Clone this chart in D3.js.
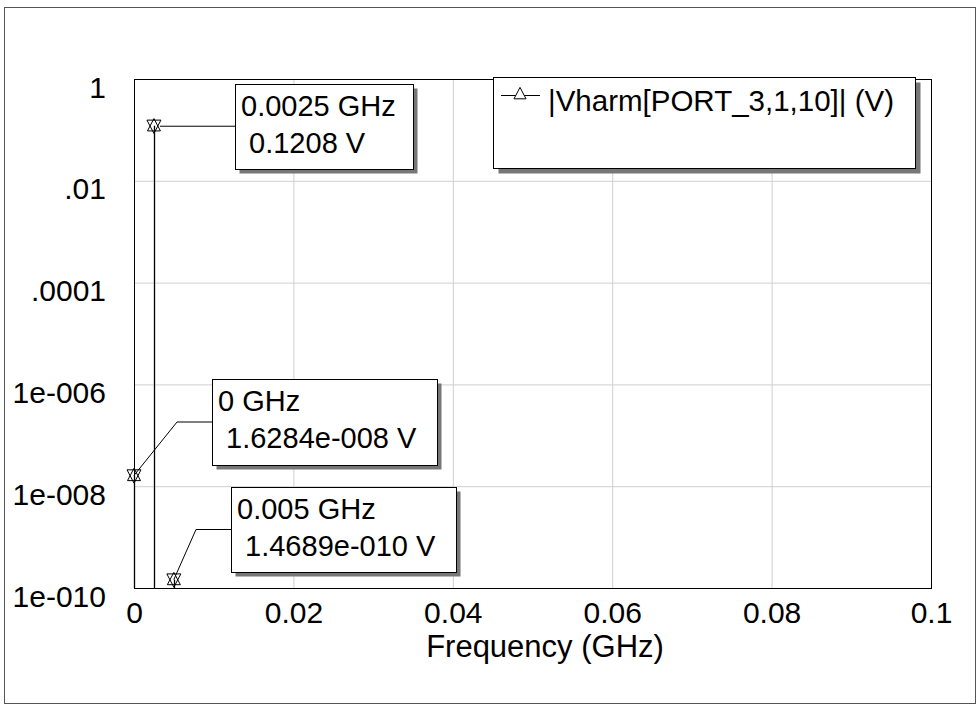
<!DOCTYPE html>
<html>
<head>
<meta charset="utf-8">
<script src="https://cdn.jsdelivr.net/npm/d3@7"></script>
<style>
  html, body { margin: 0; padding: 0; background: #fff; }
  svg { display: block; }
  text { font-family: Arial, "Liberation Sans", sans-serif; fill: #000; white-space: pre; }
</style>
</head>
<body>
<svg id="chart" width="978" height="705"></svg>
<script>
// ---- data ----
const freqs = [0, 0.0025, 0.005];                 // GHz
const values = [1.6284e-8, 0.1208, 1.4689e-10];   // V
const xTicks = [0, 0.02, 0.04, 0.06, 0.08, 0.1];
const xTickLabels = ["0", "0.02", "0.04", "0.06", "0.08", "0.1"];
const yTicks = [1, 1e-2, 1e-4, 1e-6, 1e-8, 1e-10];
const yTickLabels = ["1", ".01", ".0001", "1e-006", "1e-008", "1e-010"];
const seriesName = "|Vharm[PORT_3,1,10]| (V)";
const xTitle = "Frequency (GHz)";
const markerFreqLabels = ["0 GHz", "0.0025 GHz", "0.005 GHz"];
const markerValueLabels = [" 1.6284e-008 V", " 0.1208 V", " 1.4689e-010 V"];

// ---- layout ----
const svg = d3.select("#chart");
const plot = { left: 134, top: 79, right: 931, bottom: 588 };
const x = d3.scaleLinear().domain([0, 0.1]).range([plot.left, plot.right]);
const y = d3.scaleLog().domain([1e-10, 1]).range([plot.bottom, plot.top]);

// outer frame
svg.append("rect").attr("x", 4.5).attr("y", 7.5).attr("width", 971).attr("height", 696)
  .attr("fill", "none").attr("stroke", "#555").attr("stroke-width", 1);

// grid
const gridX = d3.axisBottom(x).tickValues(xTicks).tickSize(-(plot.bottom - plot.top)).tickFormat("");
svg.append("g").attr("transform", `translate(0,${plot.bottom})`).call(gridX)
  .call(g => g.select(".domain").remove())
  .call(g => g.selectAll("line").attr("stroke", "#cfcfcf").attr("stroke-width", 1));
const gridY = d3.axisLeft(y).tickValues(yTicks).tickSize(-(plot.right - plot.left)).tickFormat("");
svg.append("g").attr("transform", `translate(${plot.left},0)`).call(gridY)
  .call(g => g.select(".domain").remove())
  .call(g => g.selectAll("line").attr("stroke", "#cfcfcf").attr("stroke-width", 1));

// tick labels
const xAxis = d3.axisBottom(x).tickValues(xTicks).tickSize(0)
  .tickFormat((d, i) => xTickLabels[i]);
svg.append("g").attr("transform", `translate(0,${plot.bottom})`).call(xAxis)
  .call(g => g.select(".domain").remove())
  .call(g => g.selectAll("text").attr("font-size", 30).attr("font-family", null)
    .attr("dy", null).attr("y", 35).attr("fill", "#000"));

const yAxis = d3.axisLeft(y).tickValues(yTicks).tickSize(0)
  .tickFormat((d, i) => yTickLabels[i]);
svg.append("g").attr("transform", `translate(${plot.left},0)`).call(yAxis)
  .call(g => g.select(".domain").remove())
  .call(g => g.selectAll("text").attr("font-size", 30).attr("font-family", null)
    .attr("dy", null).attr("x", -28).attr("y", 18).attr("fill", "#000"));

// axis title
svg.append("text").attr("x", 545).attr("y", 657).attr("text-anchor", "middle")
  .attr("font-size", 31).text(xTitle);

// plot border
svg.append("rect").attr("x", plot.left + 0.5).attr("y", plot.top + 0.5)
  .attr("width", plot.right - plot.left).attr("height", plot.bottom - plot.top)
  .attr("fill", "none").attr("stroke", "#000").attr("stroke-width", 1);

// stems
const pts = freqs.map((f, i) => ({ f, v: values[i], px: x(f), py: y(values[i]) }));
svg.append("g").selectAll("line").data(pts).join("line")
  .attr("x1", d => Math.round(d.px) + 0.5).attr("x2", d => Math.round(d.px) + 0.5)
  .attr("y1", plot.bottom).attr("y2", d => d.py)
  .attr("stroke", "#000").attr("stroke-width", 1.3);

// symbols
const triUp = (cx, cy, s) => `M${cx},${cy - s * 0.55} L${cx + s / 2},${cy + s * 0.4} L${cx - s / 2},${cy + s * 0.4} Z`;
const triDown = (cx, cy, s) => `M${cx},${cy + s * 0.55} L${cx + s / 2},${cy - s * 0.4} L${cx - s / 2},${cy - s * 0.4} Z`;
const symG = svg.append("g");
symG.selectAll("path.up").data(pts).join("path").attr("class", "up")
  .attr("d", d => triUp(d.px, d.py, 13)).attr("fill", "none").attr("stroke", "#000").attr("stroke-width", 1);
symG.selectAll("path.down").data(pts).join("path").attr("class", "down")
  .attr("d", d => triDown(d.px, d.py, 14)).attr("fill", "none").attr("stroke", "#000").attr("stroke-width", 1);

// marker annotation boxes (layout only)
const boxLayout = [
  { left: 212, top: 379, w: 225, h: 86, knee: 35 },
  { left: 235, top: 84, w: 178, h: 85, knee: 0 },
  { left: 231, top: 487, w: 225, h: 85, knee: 35 }
];
pts.forEach((p, i) => {
  const b = boxLayout[i];
  const cy = b.top + b.h / 2;
  const g = svg.append("g");
  let path;
  if (b.knee > 0) path = `M${p.px},${p.py} L${b.left - b.knee},${cy} L${b.left},${cy}`;
  else path = `M${p.px + 6},${p.py + 0.5} L${b.left},${p.py + 0.5}`;
  g.append("path").attr("d", path).attr("fill", "none").attr("stroke", "#000").attr("stroke-width", 1);
  g.append("rect").attr("x", b.left + 4.5).attr("y", b.top + 4.5).attr("width", b.w).attr("height", b.h)
    .attr("fill", "#777");
  g.append("rect").attr("x", b.left + 0.5).attr("y", b.top + 0.5).attr("width", b.w).attr("height", b.h)
    .attr("fill", "#fff").attr("stroke", "#000").attr("stroke-width", 1);
  g.append("text").attr("x", b.left + 6).attr("y", b.top + 32).attr("font-size", 29).text(markerFreqLabels[i]);
  g.append("text").attr("x", b.left + 6).attr("y", b.top + 69).attr("font-size", 29).text(markerValueLabels[i]);
});

// legend
const leg = { left: 493, top: 77, w: 422, h: 91 };
const lg = svg.append("g");
lg.append("rect").attr("x", leg.left + 5.5).attr("y", leg.top + 5.5).attr("width", leg.w).attr("height", leg.h).attr("fill", "#777");
lg.append("rect").attr("x", leg.left + 0.5).attr("y", leg.top + 0.5).attr("width", leg.w).attr("height", leg.h)
  .attr("fill", "#fff").attr("stroke", "#000").attr("stroke-width", 1);
lg.append("line").attr("x1", 501).attr("x2", 540).attr("y1", 95.5).attr("y2", 95.5).attr("stroke", "#000");
lg.append("path").attr("d", triUp(520, 94, 12)).attr("fill", "#fff").attr("stroke", "#000");
lg.append("text").attr("x", 548).attr("y", 111).attr("font-size", 29.5).text(seriesName);
</script>
</body>
</html>
